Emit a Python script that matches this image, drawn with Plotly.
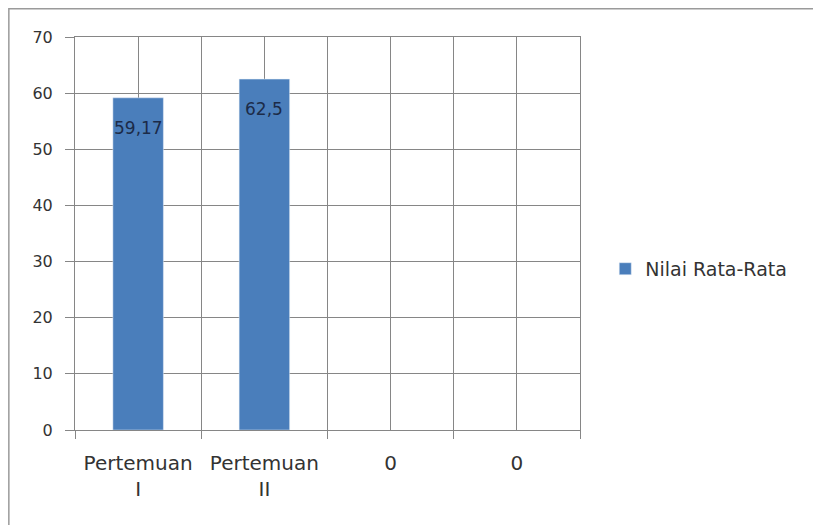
import plotly.graph_objects as go

categories = ["Pertemuan<br>I", "Pertemuan<br>II", "0", "0"]
values = [59.17, 62.5, None, None]
value_labels = ["59,17", "62,5"]
series_name = "Nilai Rata-Rata"
y_ticks = [0, 10, 20, 30, 40, 50, 60, 70]

pos = list(range(len(categories)))
grid = "#868686"
bar_color = "#4a7ebb"
font_fam = "DejaVu Sans"

fig = go.Figure()
fig.add_trace(go.Bar(
    x=pos, y=values, name=series_name, marker_color=bar_color,
    width=0.4, showlegend=True,
))
for i, lab in enumerate(value_labels):
    fig.add_annotation(x=pos[i], y=values[i], text=lab, showarrow=False,
                       yanchor="top", yshift=-18,
                       font=dict(family=font_fam, size=17, color="#1c2b48"))

boundaries = [p - 0.5 for p in pos] + [pos[-1] + 0.5]
fig.update_xaxes(
    range=[-0.5, len(categories) - 0.5],
    tickmode="array", tickvals=pos, ticktext=categories,
    showgrid=True, gridcolor=grid, gridwidth=1, ticks="",
    ticklabelstandoff=15,
    showline=True, mirror=True, linecolor=grid, linewidth=1,
    tickfont=dict(family=font_fam, size=20, color="#333333"),
    minor=dict(tickmode="array", tickvals=boundaries, showgrid=True,
               gridcolor=grid, gridwidth=1, ticks="outside", ticklen=8,
               tickcolor=grid),
    zeroline=False, fixedrange=True,
)
fig.update_yaxes(
    range=[0, 70], tickmode="array", tickvals=y_ticks,
    showgrid=True, gridcolor=grid, gridwidth=1,
    ticks="outside", ticklen=9, tickcolor=grid,
    ticklabelstandoff=9,
    showline=True, mirror=True, linecolor=grid, linewidth=1,
    tickfont=dict(family=font_fam, size=16, color="#333333"),
    zeroline=False,
)

fig.add_shape(type="rect", xref="paper", yref="paper",
              x0=-0.131, x1=1.6, y0=-0.35, y1=1.072,
              line=dict(color="#9a9a9a", width=1.5), fillcolor="rgba(0,0,0,0)")

fig.update_layout(
    width=821, height=525,
    margin=dict(l=67, r=249, t=29, b=103),
    paper_bgcolor="white", plot_bgcolor="white",
    showlegend=True,
    legend=dict(x=1.05, y=0.41, xanchor="left", yanchor="middle",
                font=dict(family=font_fam, size=19, color="#333333"),
                itemwidth=30),
    bargap=0.6,
)

fig.write_html("out.html")
